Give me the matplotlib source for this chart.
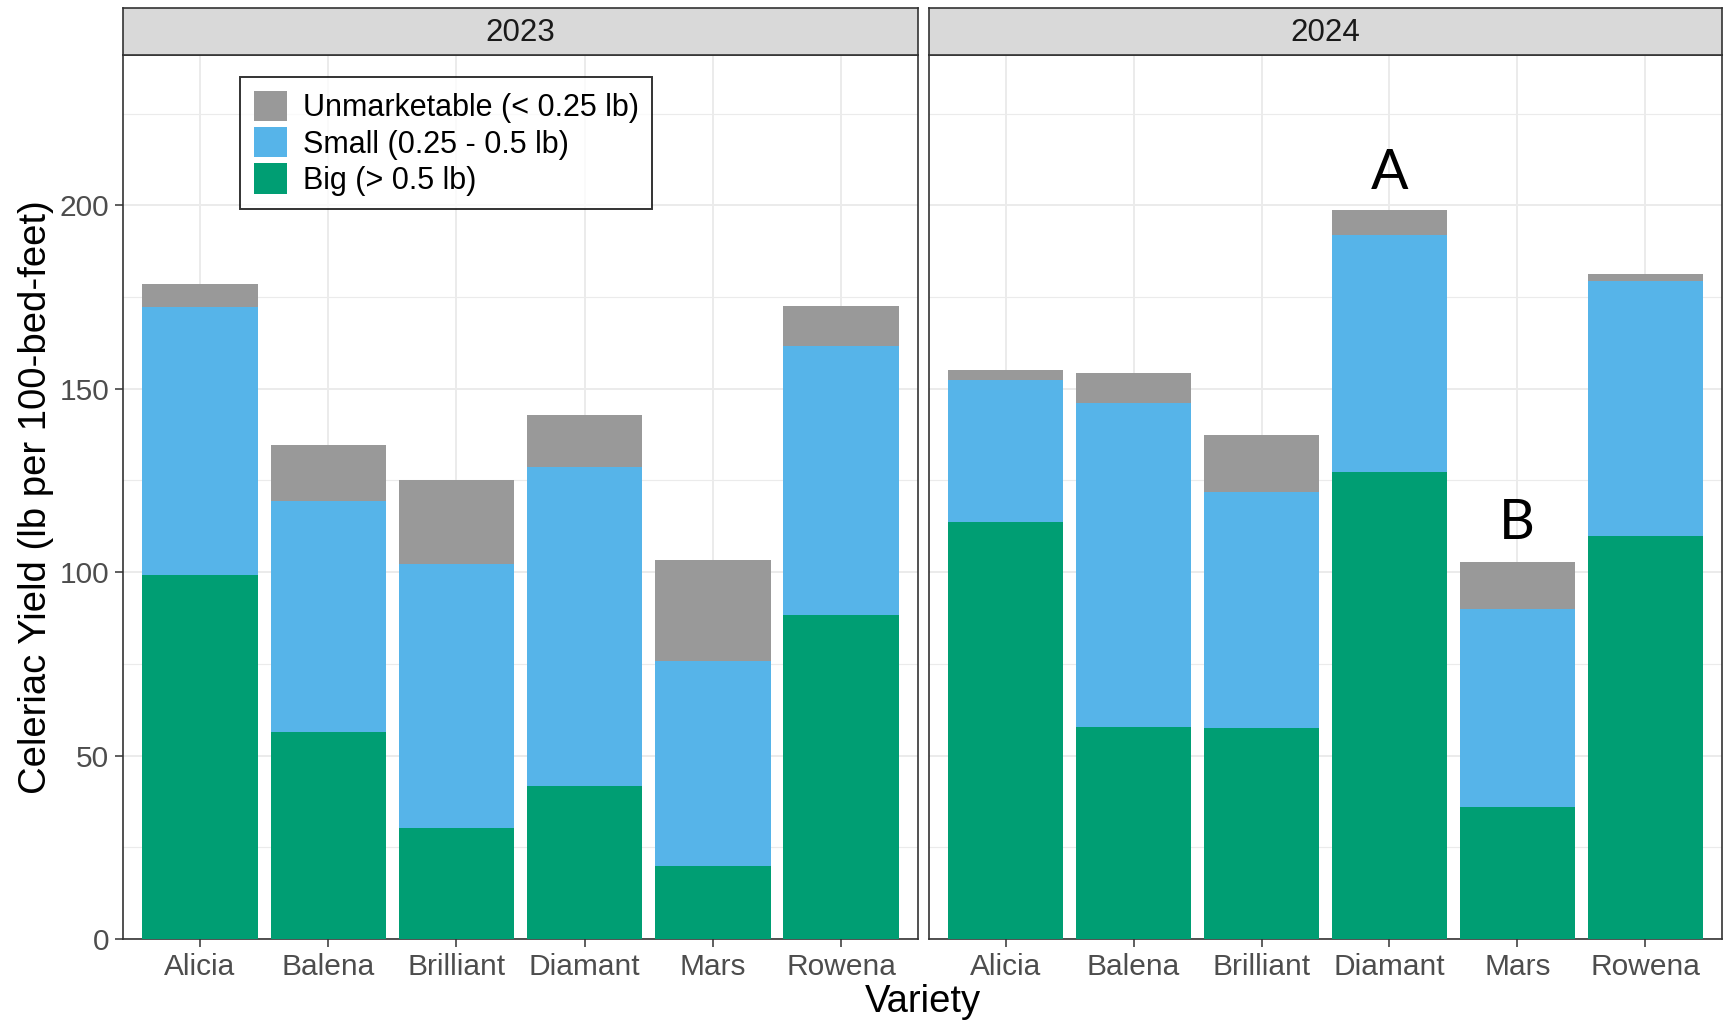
import numpy as np
import matplotlib
matplotlib.use("Agg")
import matplotlib.pyplot as plt
from matplotlib.patches import Patch
from matplotlib.ticker import MultipleLocator

plt.rcParams['font.family'] = ['Liberation Sans', 'DejaVu Sans']

varieties = ["Alicia", "Balena", "Brilliant", "Diamant", "Mars", "Rowena"]
years = ["2023", "2024"]

# stacked yield components per year (lb per 100 bed-feet)
big_2023 = [99.1, 56.5, 30.3, 41.7, 19.8, 88.3]
small_2023 = [73.3, 63.0, 71.8, 87.1, 55.9, 73.3]
unmark_2023 = [6.3, 15.3, 23.1, 14.1, 27.6, 11.1]

big_2024 = [113.8, 57.7, 57.4, 127.3, 36.0, 109.9]
small_2024 = [38.5, 88.5, 64.5, 64.6, 54.1, 69.4]
unmark_2024 = [2.7, 8.2, 15.6, 6.9, 12.6, 2.1]

letters_2024 = {"Diamant": ("A", 204.5), "Mars": ("B", 109.0)}

col_big = "#009E73"
col_small = "#56B4E9"
col_unmark = "#999999"

fig = plt.figure(figsize=(17.28, 10.24), dpi=100)

panels = [
    (years[0], big_2023, small_2023, unmark_2023, 0.0712, 0.4601),
    (years[1], big_2024, small_2024, unmark_2024, 0.5376, 0.4589),
]
bottom, height = 0.083, 0.8633
strip_h = 0.0459

x = np.arange(1, len(varieties) + 1)
axes = []
for i, (yr, big, small, unm, left, width) in enumerate(panels):
    ax = fig.add_axes([left, bottom, width, height])
    axes.append(ax)
    big = np.array(big)
    small = np.array(small)
    unm = np.array(unm)
    ax.bar(x, big, width=0.9, color=col_big, zorder=3)
    ax.bar(x, small, width=0.9, bottom=big, color=col_small, zorder=3)
    ax.bar(x, unm, width=0.9, bottom=big + small, color=col_unmark, zorder=3)

    ax.set_xlim(0.4, 6.6)
    ax.set_ylim(0, 241)
    ax.set_xticks(x)
    ax.set_xticklabels(varieties)
    ax.yaxis.set_major_locator(MultipleLocator(50))
    ax.yaxis.set_minor_locator(MultipleLocator(25))
    ax.grid(True, which='major', color='#EBEBEB', linewidth=1.4, zorder=0)
    ax.grid(True, which='minor', axis='y', color='#EBEBEB', linewidth=0.8, zorder=0)
    ax.set_axisbelow(True)
    ax.tick_params(axis='both', which='major', labelsize=21.5, colors='#333333',
                   labelcolor='#4D4D4D', length=6, width=1.1, pad=4)
    ax.tick_params(axis='y', which='minor', length=0)
    for sp in ax.spines.values():
        sp.set_color('#333333')
        sp.set_linewidth(1.2)
    if i == 1:
        ax.tick_params(axis='y', which='both', left=False, labelleft=False)

    # facet strip
    sax = fig.add_axes([left, bottom + height, width, strip_h])
    sax.set_facecolor('#D9D9D9')
    sax.set_xticks([])
    sax.set_yticks([])
    for sp in sax.spines.values():
        sp.set_color('#333333')
        sp.set_linewidth(1.2)
    sax.text(0.5, 0.47, yr, ha='center', va='center', fontsize=22.5,
             color='#1A1A1A', transform=sax.transAxes)

# significance letters
for name, (lab, yv) in letters_2024.items():
    axes[1].text(varieties.index(name) + 1, yv, lab, ha='center', va='baseline',
                 fontsize=40, family=['Lato', 'DejaVu Sans'], color='black')

handles = [Patch(facecolor=col_unmark, label="Unmarketable (< 0.25 lb)"),
           Patch(facecolor=col_small, label="Small (0.25 - 0.5 lb)"),
           Patch(facecolor=col_big, label="Big (> 0.5 lb)")]
leg = axes[0].legend(handles=handles, loc='upper left', bbox_to_anchor=(0.147, 0.975),
                     borderaxespad=0, fontsize=22, frameon=True, fancybox=False,
                     edgecolor='black', handlelength=1.1, handleheight=1.15,
                     labelspacing=0.12, handletextpad=0.5, borderpad=0.45)
leg.get_frame().set_linewidth(1.4)

fig.text(0.021, bottom + height / 2, "Celeriac Yield (lb per 100-bed-feet)",
         rotation=90, ha='center', va='center', fontsize=27.5)
fig.text(0.534, 0.021, "Variety", ha='center', va='center', fontsize=27.5)

fig.savefig("out.png", dpi=100)
